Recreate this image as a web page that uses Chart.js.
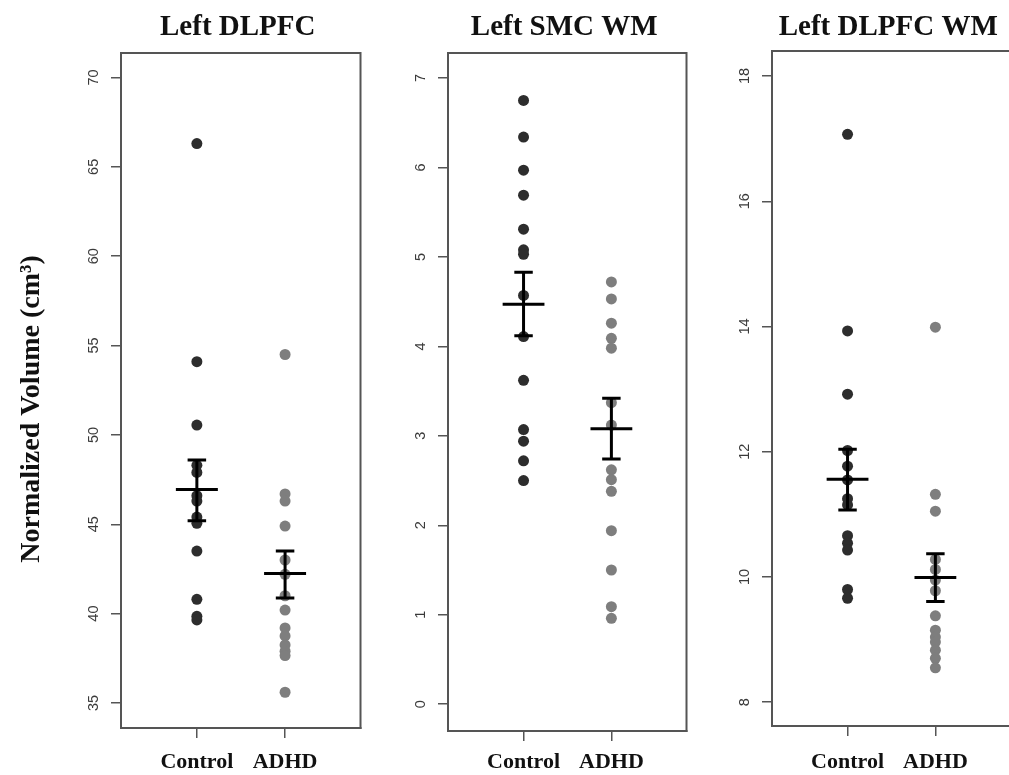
<!DOCTYPE html>
<html>
<head>
<meta charset="utf-8">
<script src="https://cdn.jsdelivr.net/npm/chart.js@4/dist/chart.umd.min.js"></script>
<style>
html,body{margin:0;padding:0;background:#fff;overflow:hidden;width:1009px;height:775px;}
canvas{position:absolute;top:0;}
</style>
</head>
<body>
<canvas id="c1" width="366" height="775" style="left:0px;width:366px;height:775px"></canvas>
<canvas id="c2" width="312" height="775" style="left:380px;width:312px;height:775px"></canvas>
<canvas id="c3" width="311" height="775" style="left:705px;width:311px;height:775px"></canvas>
<script>
// ---- data ----
const categories = ['Control', 'ADHD'];
const titles = ['Left DLPFC', 'Left SMC WM', 'Left DLPFC WM'];
const yAxisTitle = 'Normalized Volume (cm\u00B3)';

const dlpfcControl = [66.3, 54.1, 50.55, 48.3, 47.9, 46.6, 46.3, 45.4, 45.05, 43.5, 40.8, 39.85, 39.65];
const dlpfcADHD = [54.5, 46.7, 46.3, 44.9, 43.0, 42.2, 41.0, 40.2, 39.2, 38.75, 38.25, 37.9, 37.65, 35.6];
const dlpfcMean = [46.95, 42.24];
const dlpfcSEup = [48.6, 43.51];
const dlpfcSElo = [45.19, 40.88];
const dlpfcTicks = [35, 40, 45, 50, 55, 60, 65, 70];

const smcControl = [6.75, 6.34, 5.97, 5.69, 5.31, 5.08, 5.03, 4.57, 4.11, 3.62, 3.07, 2.94, 2.72, 2.50];
const smcADHD = [4.72, 4.53, 4.26, 4.09, 3.98, 3.37, 3.12, 2.62, 2.51, 2.38, 1.94, 1.50, 1.09, 0.96];
const smcMean = [4.47, 3.08];
const smcSEup = [4.83, 3.42];
const smcSElo = [4.12, 2.74];
const smcTicks = [0, 1, 2, 3, 4, 5, 6, 7];

const dlpfcWMControl = [17.07, 13.93, 12.92, 12.02, 11.77, 11.55, 11.25, 11.15, 10.66, 10.54, 10.43, 9.80, 9.66];
const dlpfcWMADHD = [13.99, 11.32, 11.05, 10.28, 10.12, 9.95, 9.78, 9.38, 9.15, 9.04, 8.96, 8.83, 8.70, 8.55];
const dlpfcWMMean = [11.56, 9.99];
const dlpfcWMSEup = [12.04, 10.37];
const dlpfcWMSElo = [11.07, 9.61];
const dlpfcWMTicks = [8, 10, 12, 14, 16, 18];

// ---- styles ----
const BORDER = '#555';
const MEAN_HALF = 0.238, CAP_HALF = 0.105;

function errorBarData(mean, up, lo) {
  const out = [];
  mean.forEach((m, i) => {
    const c = i + 1;
    out.push({x: c - MEAN_HALF, y: m}, {x: c + MEAN_HALF, y: m}, {x: c, y: null});
    out.push({x: c - CAP_HALF, y: up[i]}, {x: c + CAP_HALF, y: up[i]}, {x: c, y: null});
    out.push({x: c - CAP_HALF, y: lo[i]}, {x: c + CAP_HALF, y: lo[i]}, {x: c, y: null});
    out.push({x: c, y: up[i]}, {x: c, y: lo[i]}, {x: c, y: null});
  });
  return out;
}

const boxPlugin = {
  id: 'boxPlugin',
  afterDraw(chart) {
    const o = chart.options.plugins.boxPlugin;
    const ctx = chart.ctx, a = chart.chartArea;
    ctx.save();
    ctx.strokeStyle = BORDER;
    ctx.lineWidth = 2;
    ctx.strokeRect(a.left, a.top, a.right - a.left, a.bottom - a.top);
    // y tick labels (rotated, R style)
    const ys = chart.scales.y;
    ctx.fillStyle = '#3a3a3a';
    ctx.font = '14.5px "Liberation Sans", Arial, sans-serif';
    ctx.textAlign = 'center';
    ctx.textBaseline = 'middle';
    ys.ticks.forEach(t => {
      const py = ys.getPixelForValue(t.value);
      ctx.save();
      ctx.translate(a.left - 27, py);
      ctx.rotate(-Math.PI / 2);
      ctx.fillText(String(t.value), 0, 0);
      ctx.restore();
    });
    // title
    ctx.fillStyle = '#111';
    ctx.font = 'bold 29px "Liberation Serif", "Times New Roman", serif';
    ctx.textBaseline = 'alphabetic';
    ctx.fillText(o.title, (a.left + a.right) / 2 - 3, 35);
    // y axis title
    if (o.yTitle) {
      ctx.save();
      ctx.translate(32, 409);
      ctx.rotate(-Math.PI / 2);
      ctx.font = 'bold 28px "Liberation Serif", "Times New Roman", serif';
      ctx.textBaseline = 'middle';
      ctx.fillText(o.yTitle, 0, 0);
      ctx.restore();
    }
    ctx.restore();
  }
};

function makeChart(id, cfg) {
  const canvasH = 775;
  new Chart(document.getElementById(id), {
    type: 'scatter',
    data: {
      datasets: [
        {
          data: errorBarData(cfg.mean, cfg.up, cfg.lo),
          showLine: true, spanGaps: false,
          borderColor: '#000', borderWidth: 3,
          pointRadius: 0, order: 0
        },
        {
          data: cfg.control.map(v => ({x: 1, y: v})),
          backgroundColor: '#2d2d2d', borderColor: '#2d2d2d',
          pointRadius: 5.5, borderWidth: 0, order: 1
        },
        {
          data: cfg.adhd.map(v => ({x: 2, y: v})),
          backgroundColor: '#7e7e7e', borderColor: '#7e7e7e',
          pointRadius: 5.5, borderWidth: 0, order: 2
        }
      ]
    },
    options: {
      responsive: false,
      animation: false,
      events: [],
      layout: {padding: {top: cfg.top, right: 2, bottom: 0, left: 0}},
      plugins: {
        legend: {display: false},
        tooltip: {enabled: false},
        boxPlugin: {title: cfg.title, yTitle: cfg.yTitle}
      },
      scales: {
        x: {
          type: 'linear',
          min: 0.14, max: 2.855,
          afterBuildTicks: s => { s.ticks = categories.map((c, i) => ({value: i + 1})); },
          afterFit: s => { s.height = canvasH - cfg.bottom; },
          ticks: {
            callback: v => categories[v - 1],
            font: {family: '"Liberation Serif", "Times New Roman", serif', weight: 'bold', size: 22},
            color: '#111',
            padding: 8 + (731 - cfg.bottom),
            maxRotation: 0, minRotation: 0
          },
          grid: {display: true, drawOnChartArea: false, drawTicks: true, tickLength: 10, color: BORDER, lineWidth: 1.5},
          border: {display: true, color: BORDER, width: 2}
        },
        y: {
          type: 'linear',
          min: cfg.ymin, max: cfg.ymax,
          afterBuildTicks: s => { s.ticks = cfg.ticks.map(v => ({value: v})); },
          afterFit: s => { s.width = cfg.yw; },
          ticks: {display: false},
          grid: {display: true, drawOnChartArea: false, drawTicks: true, tickLength: 10, color: BORDER, lineWidth: 1.5},
          border: {display: true, color: BORDER, width: 2}
        }
      }
    },
    plugins: [boxPlugin]
  });
}

makeChart('c1', {title: titles[0], yTitle: yAxisTitle, control: dlpfcControl, adhd: dlpfcADHD,
  mean: dlpfcMean, up: dlpfcSEup, lo: dlpfcSElo, ticks: dlpfcTicks,
  ymin: 33.6, ymax: 71.37, top: 53, bottom: 728, yw: 121});
makeChart('c2', {title: titles[1], yTitle: null, control: smcControl, adhd: smcADHD,
  mean: smcMean, up: smcSEup, lo: smcSElo, ticks: smcTicks,
  ymin: -0.30, ymax: 7.28, top: 53, bottom: 731, yw: 68});
makeChart('c3', {title: titles[2], yTitle: null, control: dlpfcWMControl, adhd: dlpfcWMADHD,
  mean: dlpfcWMMean, up: dlpfcWMSEup, lo: dlpfcWMSElo, ticks: dlpfcWMTicks,
  ymin: 7.62, ymax: 18.40, top: 51, bottom: 726, yw: 67});
</script>
</body>
</html>
